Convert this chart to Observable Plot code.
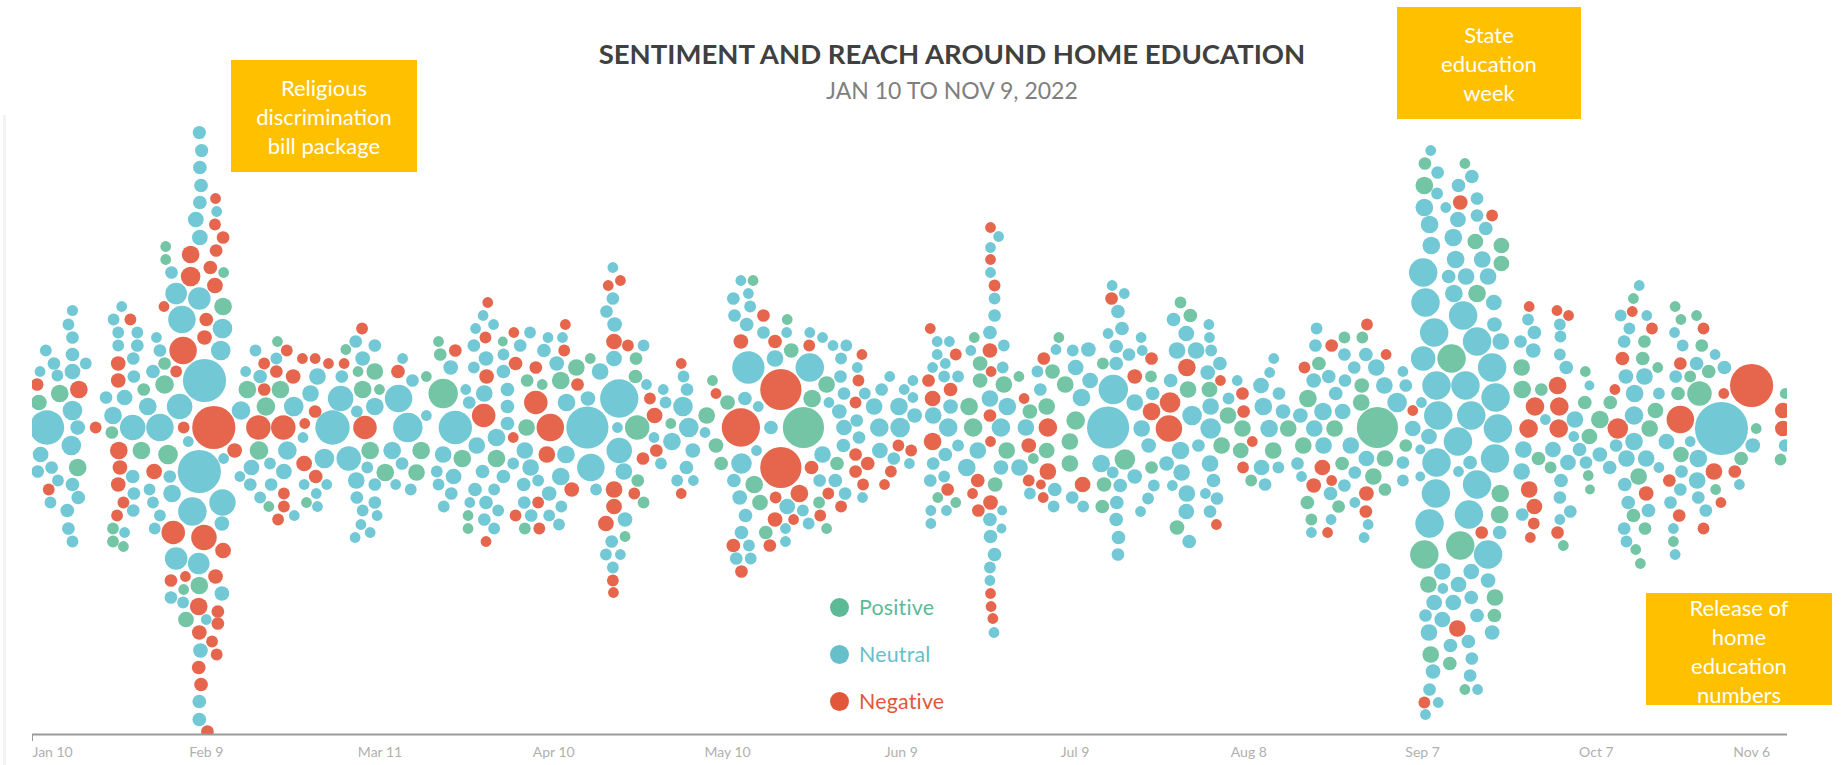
<!DOCTYPE html>
<html>
<head>
<meta charset="utf-8">
<script src="https://cdn.jsdelivr.net/npm/d3@7"></script>
<script src="https://cdn.jsdelivr.net/npm/@observablehq/plot@0.6"></script>
<style>
html,body{margin:0;padding:0;background:#fff;width:1845px;height:765px;overflow:hidden;font-family:Lato,"Open Sans",sans-serif}
#stage{position:relative;width:1845px;height:765px}
#chart{position:absolute;left:0;top:0}
.title{position:absolute;left:0;width:1904px;text-align:center}
.note{position:absolute;background:#FFC000;color:#fff;font-size:22px;line-height:29px;text-align:center;box-sizing:border-box;padding-top:13px}
.key{position:absolute;font-size:21.4px;line-height:24px;padding-left:29px;letter-spacing:.2px}
.key i{position:absolute;left:0;top:2.5px;width:19px;height:19px;border-radius:50%}
#edge{position:absolute;left:3px;top:115px;width:3px;height:650px;background:#f3f3f3}
</style>
</head>
<body>
<div id="stage">
<div id="edge"></div>
<div id="chart"></div>
<div class="title" style="top:38px;font-size:27.5px;font-weight:700;color:#404040;line-height:32px">SENTIMENT AND REACH AROUND HOME EDUCATION</div>
<div class="title" style="top:77px;font-size:23px;color:#7f7f7f;line-height:26px">JAN 10 TO NOV 9, 2022</div>
<div class="note" style="left:231px;top:60px;width:186px;height:112px">Religious<br>discrimination<br>bill package</div>
<div class="note" style="left:1397px;top:7px;width:184px;height:112px">State<br>education<br>week</div>
<div class="note" style="left:1646px;top:593px;width:186px;height:112px;padding-top:0">Release of<br>home<br>education<br>numbers</div>
<div class="key" style="left:830px;top:595px;color:#5cba97"><i style="background:#5cba97"></i>Positive</div>
<div class="key" style="left:830px;top:642px;color:#66bfc9"><i style="background:#66bfc9"></i>Neutral</div>
<div class="key" style="left:830px;top:689px;color:#e2573a"><i style="background:#e2573a"></i>Negative</div>
</div>
<script>
const P = "Positive", U = "Neutral", N = "Negative";
const sentiments = [P, U, N];
const sentimentColors = ["#74c5a5", "#72c8d4", "#e5664c"];
const tickDays = [0, 30, 60, 90, 120, 150, 180, 210, 240, 270, 300];
const tickLabels = ["Jan 10", "Feb 9", "Mar 11", "Apr 10", "May 10", "Jun 9", "Jul 9", "Aug 8", "Sep 7", "Oct 7", "Nov 6"];
const lastDay = 303;

// rows: [days since Jan 10, swarm offset, reach, sentiment]
const janDots = [
[6.9,117,32,U],[6.2,103,36,U],[6.9,90,42,U],[2.3,77,36,U],[6.9,73,49,U],[9.2,64,36,U],[3.7,64,42,U],[1.3,56,30,U],[4.3,52,36,U],[6.9,56,64,U],
[0.8,43,42,N],[8,38,81,N],[4.7,34,81,P],[1.1,25,64,P],[6.9,17,100,U],[7.8,0,56,U],[2.5,0,306,U],[10.9,0,36,N],[6.7,-18,100,U],[1.4,-27,64,U],
[3.3,-40,42,U],[7.8,-40,81,P],[0.9,-44,42,U],[4.4,-53,36,U],[6.9,-57,49,U],[2.8,-62,36,N],[7.9,-70,49,U],[3.1,-75,36,U],[6,-83,49,U],[6.2,-101,42,U],[6.9,-114,36,U],
[15.4,121,30,U],[14,108,36,U],[16.9,108,36,N],[14.8,95,36,U],[18.1,95,36,U],[14.8,82,36,U],[18.1,82,42,U],[17.4,69,42,U],[14.8,64,56,N],[17.5,51,42,U],
[14.8,47,56,N],[19.2,38,42,P],[15.9,30,64,U],[12.7,30,42,U],[13.9,12,81,U],[17.3,0,169,U],[13.7,-5,42,P],[14.9,-23,81,N],[18.8,-23,81,P],[15.1,-40,56,N],
[17.3,-49,49,U],[14.8,-57,56,N],[17.5,-66,42,U],[15.7,-75,36,N],[17.4,-83,42,U],[14.6,-88,36,N],[13.9,-101,36,P],[15.9,-105,30,U],[13.9,-114,36,P],[15.7,-119,30,P]
];
const febDots = [
[21.4,90,30,U],[22,77,42,U],[20.8,56,49,U],[22.8,64,42,P],[24.8,56,36,N],[22.8,43,90,P],[19.9,21,81,U],[25.4,21,169,U],[22,0,196,U],[26.1,0,36,N],
[26.9,-14,30,U],[23.4,-27,100,P],[21,-44,64,N],[23.7,-49,42,U],[20.2,-62,36,U],[24.1,-66,81,U],[20.8,-75,36,U],[22,-88,36,U],[21.1,-101,36,U],[24.3,-105,144,N],
[28.8,295,45,U],[29.2,277,45,U],[28.9,260,49,U],[29.1,242,49,U],[28.9,225,49,U],[31.6,229,30,N],[31.8,216,30,U],[28.2,208,64,U],[31.5,203,36,N],[28.9,190,64,U],
[32.9,190,42,N],[23,181,30,P],[31.7,177,42,N],[27.3,173,81,N],[23,168,30,P],[30.7,160,49,N],[33,155,30,P],[24,155,42,U],[27.3,151,100,N],[31.5,142,64,N],
[24.8,134,121,U],[28.8,129,132,U],[22.7,121,30,N],[32.9,121,81,P],[25.8,108,196,U],[30,108,49,N],[32.8,99,100,U],[29.7,90,56,N],[26,77,196,N],[32.5,77,100,U],
[29.7,47,484,U],[31.3,0,484,N],[28.8,-44,484,U],[33,-31,30,U],[34.9,-23,56,N],[32.8,-75,182,U],[27.6,-84,210,U],[32.7,-96,56,U],[29.6,-110,169,N],[32.9,-123,64,N],
[24.8,-131,132,U],[28.7,-136,121,U],[23.9,-153,42,N],[26.4,-149,30,N],[31.6,-149,56,N],[26.1,-162,30,P],[28.8,-158,81,P],[32.7,-166,56,U],[23.9,-170,42,U],[26,-175,36,U],
[28.7,-179,81,N],[32,-184,42,N],[26.5,-192,64,P],[30,-192,30,U],[32,-196,42,N],[28.8,-205,56,N],[31,-214,36,N],[29,-223,56,U],[31.8,-227,36,N],[28.7,-240,49,N],
[29.1,-257,49,N],[28.8,-274,49,U],[28.8,-292,49,U],[30.2,-304,42,N],
[36,17,90,U],[38.5,77,36,U],[42.3,86,30,P],[43.9,77,36,N],[40,64,36,N],[42.1,69,36,U],[36.8,56,30,U],[39.3,51,49,U],[42.1,56,42,N],[45,51,56,N],
[37.1,38,81,P],[40,38,42,N],[42.8,38,81,P],[40.3,21,90,P],[45.1,21,100,U],[39,0,156,N],[43.3,0,156,N],[39.1,-23,90,P],[44,-23,90,U],[41,-36,36,U],
[37.8,-40,64,U],[43.4,-44,64,U],[35.8,-49,30,U],[37.6,-57,42,U],[41.2,-57,42,U],[39.3,-70,36,U],[43.4,-66,36,N],[40.8,-79,30,P],[43.4,-79,36,N],[42.4,-92,36,N],[45.2,-88,30,U]
];
const marDots = [
[46.6,69,30,N],[48.8,69,30,N],[51.1,64,30,N],[53.8,64,30,N],[56.9,99,36,N],[55.8,86,42,U],[54.1,78,30,P],[59.1,82,42,U],[57,69,56,U],[56.2,56,30,P],
[59.1,56,72,P],[53.4,51,42,U],[49.2,51,72,U],[48,34,72,U],[57,38,81,P],[59.9,38,30,P],[53.2,29,169,U],[59.1,21,81,U],[56,16,36,U],[48.8,16,42,N],
[47,4,30,N],[46.7,-10,30,U],[51.8,0,306,U],[57.4,0,144,N],[58.3,-23,81,P],[50.4,-31,100,U],[54.6,-31,156,U],[46.9,-36,64,N],[57.8,-40,36,U],[60.9,-45,81,P],
[48.9,-49,49,N],[55.9,-53,72,U],[46.9,-57,30,U],[50.8,-57,30,U],[59.1,-57,42,U],[49,-66,30,U],[56,-70,42,U],[47.3,-75,30,P],[49.2,-79,30,U],[59.1,-75,42,U],
[57,-83,36,U],[59.5,-88,30,U],[56.7,-97,30,U],[58.3,-105,30,U],[55.7,-110,30,U],
[63.2,29,196,U],[64.8,0,225,U],[63.1,56,49,N],[63.9,69,30,U],[65.6,47,42,U],[68,51,30,P],[68,12,30,U],[62.1,-23,81,U],[67.1,-23,81,P],[63.8,-36,42,U],
[66.3,-45,72,P],[62.7,-57,30,U],[65.3,-62,36,U],
[70.9,34,225,P],[70.1,86,30,P],[73,77,42,N],[70.4,73,42,P],[72.2,60,56,U],[74.8,38,30,U],[75.4,25,42,U],[73,0,289,U],[77.9,12,144,N],[78,34,72,U],
[78.4,51,56,N],[78.3,69,56,U],[78.2,90,36,N],[76.2,60,36,U],[76.2,82,42,U],[76.5,99,30,U],[77.8,112,30,U],[78.6,125,30,N],[79.6,103,30,U],[81.2,86,25,P],
[81.3,73,36,U],[81.3,56,49,U],[82,38,49,U],[82,21,49,U],[82,4,49,U],[80.1,-10,81,U],[76.7,-18,72,U],[70.9,-27,72,U],[74.2,-31,81,P],[80.1,-31,81,P],
[69.8,-44,36,U],[72.7,-49,64,U],[77.7,-44,49,U],[81.3,-49,49,U],[70.1,-57,36,U],[76.4,-62,49,U],[79.7,-62,36,U],[72.3,-66,42,U],[75.5,-75,30,U],[78.3,-75,49,U],
[71,-79,36,U],[80.4,-83,36,U],[75.2,-88,30,P],[78,-92,42,U],[75.2,-101,30,P],[79.7,-101,36,U],[78.3,-114,30,N]
];
const aprDots = [
[83.1,95,30,N],[85.9,95,36,U],[84.2,82,42,U],[83.4,64,49,N],[89,90,30,U],[91.5,90,30,U],[92,103,30,N],[88.3,77,49,U],[91.8,77,36,N],[90.5,64,56,U],
[86.9,60,42,N],[85.4,47,42,P],[88,43,30,P],[91.2,47,81,P],[93.9,60,72,P],[96.3,69,30,P],[98,56,72,U],[94.1,43,42,N],[86.9,25,144,N],[92.2,25,81,U],
[95.9,29,56,U],[85.3,0,72,P],[89.4,0,196,N],[95.8,0,462,U],[83,-10,30,N],[85,-23,72,U],[88.8,-27,72,N],[92.1,-27,81,U],[83,-36,36,U],[86,-40,72,U],
[96.4,-40,196,U],[91.2,-49,81,U],[87.3,-53,36,U],[84.8,-57,49,U],[93.1,-62,56,N],[97.3,-62,36,U],[89.2,-66,56,U],[87.3,-75,36,N],[84.9,-75,42,U],[91.3,-79,36,U],
[83.4,-88,36,N],[86.1,-88,42,U],[89.2,-88,36,U],[90.9,-97,36,U],[85,-101,36,P],[87.5,-101,36,N],
[101.3,29,380,U],[100.4,69,64,U],[100.4,86,64,N],[100.5,103,56,U],[99.1,116,42,U],[100.2,129,42,U],[99.4,142,30,N],[101.5,147,30,N],[100.2,160,30,U],[102.8,82,36,N],
[105.5,82,36,U],[104.2,69,42,P],[104.1,51,49,P],[106,43,30,U],[106.6,29,36,N],[109.3,25,36,U],[108.9,38,30,U],[112.4,51,36,U],[112,64,30,N],[113,38,42,U],
[112.3,21,100,U],[107.4,12,64,N],[101,0,30,U],[104.4,0,156,P],[110.2,4,30,P],[113.3,0,100,U],[101.3,-23,169,U],[107.3,-10,30,U],[110.4,-14,81,U],[107.7,-23,42,N],
[105.4,-31,42,N],[114,-23,56,U],[108.5,-36,36,U],[112.9,-40,49,U],[102.1,-44,72,U],[104.5,-53,42,P],[111.3,-53,36,U],[114.1,-53,30,U],[100.4,-62,72,N],[103.9,-66,36,N],
[112,-66,30,N],[100.4,-79,64,N],[105.5,-75,36,P],[102.3,-92,56,U],[99,-96,64,N],[102.3,-109,30,P],[100,-114,42,U],[99,-127,36,U],[101.5,-127,30,U],[100.2,-140,36,U],
[100.2,-153,36,N],[100.3,-165,30,N]
];
const mayDots = [
[116.4,12,72,P],[116.1,-5,30,U],[118,-18,56,P],[118.9,-36,49,P],[117.4,47,30,P],[118,34,30,N],[120,25,56,P],[123,29,49,U],[125.3,21,30,U],[122.3,0,380,N],
[127.5,0,49,U],[133.1,0,441,P],[129.2,38,441,N],[129.2,-40,441,N],[123.6,60,272,U],[134.2,60,210,U],[128.2,69,72,U],[131,77,56,P],[134.1,82,36,N],[130.2,95,30,U],
[130.3,108,30,P],[128.2,86,49,N],[126.2,95,42,U],[126.2,112,42,N],[122.3,86,56,N],[123.3,103,49,U],[121.2,112,42,U],[123.9,121,36,U],[121,129,42,U],[123.6,134,30,U],
[122.3,147,30,U],[124.4,147,30,P],[134.2,95,30,U],[136.4,90,30,U],[138.2,82,30,U],[140.5,82,36,U],[139.6,69,36,U],[143.2,73,30,N],[142.4,60,30,U],[139.5,51,42,U],
[137.1,43,72,P],[142.6,47,36,N],[134.6,29,81,P],[140.1,34,42,U],[143.7,34,36,U],[137.5,25,30,U],[142.1,25,36,N],[139.3,16,56,U],[142.3,7,42,U],[140.1,0,64,U],
[142.7,-10,42,U],[140,-18,49,U],[125,-23,30,U],[122.4,-36,110,U],[136.4,-27,72,U],[142.1,-27,42,N],[138.9,-36,49,P],[134.5,-40,49,N],[144.2,-36,49,N],[142.1,-44,42,N],
[135.9,-53,42,U],[138.6,-53,49,U],[121.1,-53,49,U],[124.6,-57,81,P],[143.4,-57,36,N],[132.4,-66,81,N],[128.3,-70,36,N],[137.4,-66,36,N],[140.3,-66,42,U],[122.1,-70,56,U],
[125.6,-75,64,P],[135.8,-75,36,P],[130.3,-79,64,U],[143.3,-70,30,U],[139.6,-79,36,N],[133,-83,36,U],[123.1,-88,49,U],[136,-88,36,N],[128.2,-92,56,N],[131.4,-92,30,N],
[134,-96,36,U],[137.1,-101,30,P],[130,-101,30,U],[122.4,-105,49,U],[126.6,-105,49,P],[130,-114,30,U],[121,-118,49,N],[123.7,-118,36,U],[127.3,-118,42,N],[121.5,-131,42,U],
[124,-131,36,U],[122.4,-144,42,N]
];
const junDots = [
[148,51,30,U],[146.6,38,42,U],[150.5,38,30,U],[152,47,30,U],[152,30,30,U],[145.3,21,72,U],[149.6,21,81,U],[152.3,12,56,U],[146.2,0,90,U],[149.8,0,100,U],
[146.3,-23,64,U],[149.5,-18,36,N],[151.7,-23,36,N],[148.7,-31,42,U],[151.4,-36,30,U],[148.2,-44,36,N],[147.1,-57,30,N],
[155,99,30,N],[156.2,86,30,U],[158.3,86,30,U],[156.2,73,30,U],[159.4,73,36,N],[157.6,64,30,U],[155.4,60,30,U],[157.4,51,36,U],[159.8,51,36,U],
[154.7,47,42,N],[158.5,38,49,N],[155.4,29,64,N],[158.5,21,56,U],[155.5,12,72,U],[161.7,21,81,P],[158.1,0,90,U],[162.4,0,90,P],[155.4,-14,81,N],[159.8,-18,36,U],
[157.6,-27,49,U],[163.2,-23,72,U],[155.5,-36,42,U],[161.3,-40,81,U],[157.4,-49,36,U],[155,-53,42,U],[163.2,-53,49,N],[158,-62,42,N],[162.3,-66,30,N],[156.3,-70,30,P],
[159.4,-75,30,P],[163.3,-83,42,N],[155.1,-83,30,U],[157.8,-83,30,U],[155.1,-96,30,U],
[165.4,200,30,N],[166.8,191,30,U],[165.4,180,30,U],[165.4,168,30,N],[165.4,155,30,U],[166.1,142,36,N],[166.1,129,36,U],[166.1,112,42,U],[165.3,95,49,U],[165.3,77,56,N],
[167.7,82,36,U],[162.6,90,30,P],[162,77,30,U],[163.6,64,56,P],[165.5,56,30,N],[167.5,60,36,U],[163.6,47,56,P],[167.7,43,72,P],[170.3,51,30,P],[165.3,29,72,U],
[171.2,29,30,N],[168.3,21,81,U],[165.3,12,42,N],[167.2,0,90,U],[171.5,0,72,U],[165.4,-14,30,N],[172,-18,56,N],[168.2,-23,72,P],[172.8,-31,30,P],[167.2,-40,56,U],
[170.4,-40,72,U],[166.2,-57,56,P],[165.4,-75,56,N],[167.4,-83,25,U],[165.3,-92,49,U],[167.3,-101,25,U],[165.4,-109,49,U],[166.1,-127,49,U],[165.3,-140,36,U],[165.3,-153,30,U],
[165.4,-166,30,N],[165.5,-179,30,N],[165.8,-191,30,N],[166,-205,30,U]
];
const julDots = [
[174.6,69,42,N],[173.5,56,36,U],[176.1,56,56,P],[174,38,42,U],[172.2,16,56,P],[175.1,21,72,P],[175.3,0,90,N],[175.1,-23,64,P],[175.3,-44,72,N],[172,-53,36,N],
[174.1,-57,25,N],[176.5,-62,49,U],[172.2,-66,36,U],[174.5,-70,30,N],[176.3,-79,36,U],[176.7,78,30,U],[177.2,90,30,P],[179.6,77,36,U],[182.3,78,56,U],[180.1,60,64,U],
[178.3,43,72,P],[182.6,47,64,U],[181.1,30,81,U],[184.8,64,36,P],[180.1,7,90,P],[179.1,-14,72,P],[179.1,-36,72,P],[181.3,-57,64,N],[179.5,-70,42,U],[181.4,-79,36,U],
[185,-57,56,P],[184.7,-79,49,P],
[186.4,142,30,U],[188.5,134,30,U],[186.3,129,42,N],[187.4,116,49,U],[188.1,99,49,U],[185.7,94,30,U],[187.1,81,49,U],[191.4,90,30,U],[191.6,77,30,U],[189.3,73,42,U],
[187.1,64,49,U],[193.2,69,42,N],[190.3,51,56,N],[193.1,51,36,P],[186.6,38,225,U],[193.4,34,49,U],[190.3,25,72,U],[196.4,25,110,N],[193.2,16,81,N],[196.2,-1,182,N],
[185.7,0,462,U],[191.5,-1,72,U],[192.7,-18,56,U],[188.6,-32,110,P],[193.2,-40,42,P],[195.8,-36,56,U],[186.5,-45,36,U],[190.3,-49,56,U],[184.5,-36,81,U],[187.8,-58,49,U],
[193.6,-58,36,U],[198.4,-45,72,U],[196.8,-58,30,U],[192.6,-71,36,U],[187.2,-75,49,U],[191.3,-84,30,U],[187.1,-92,49,U],[187.5,-110,49,U],[187.4,-127,42,U],
[198.2,125,36,P],[199.9,112,49,P],[197,108,49,U],[203.1,103,30,U],[199.2,94,64,U],[203.2,90,30,U],[197.6,77,72,U],[200.9,77,72,U],[203.5,77,36,U],[199.3,60,81,N],
[205,64,49,U],[202.9,55,56,U],[196.5,47,49,U],[205.1,47,30,N],[199.5,38,72,P],[203.2,38,64,P],[208,47,30,U],[206.5,29,36,U],[208.9,34,42,N],[203.4,21,72,U],
[209.1,16,42,N],[206.4,12,72,P],[200.2,12,100,U],[208.9,-1,72,P],[203.4,-1,110,U],[201.3,-18,42,U],[205.3,-18,72,P],[198.2,-23,81,U],[210.6,-14,30,N],[208.6,-23,64,P],
[203.3,-36,72,U],[209,-40,36,N],[203.9,-53,49,U],[210.4,-53,36,P],[199.3,-66,72,U],[202.5,-66,30,U],[204.5,-71,42,U],[203.3,-84,42,U],[199.2,-84,64,U],[204.4,-97,30,N],
[197.6,-100,56,P],[199.7,-114,49,U]
];
const augDots = [
[214.3,69,30,U],[213.6,55,30,U],[212.1,42,64,U],[215.2,34,42,U],[212.5,21,81,U],[215.9,16,56,U],[218.9,12,56,U],[213.5,-1,81,U],[216.8,-1,72,P],[214.2,-23,72,P],
[212.2,-40,64,U],[215.1,-40,36,U],[212.8,-57,42,U],
[219.6,60,36,N],[222.1,64,49,P],[221.7,99,36,U],[221.5,82,42,U],[224.3,82,42,N],[226.5,90,36,P],[226.5,73,42,U],[230.4,103,36,N],[229.6,90,36,P],[230.2,73,49,U],
[233.7,73,30,N],[228.2,60,42,U],[232,60,72,U],[221.2,47,56,U],[223.8,51,49,U],[226.6,47,42,U],[229.5,42,56,P],[233.4,42,72,U],[220.2,29,81,P],[225,34,49,U],
[229.4,25,72,P],[235.6,25,100,U],[222.8,16,81,U],[226.2,16,64,U],[221.3,-1,72,U],[224.8,-1,72,P],[232.2,0,441,P],[219.4,-18,72,P],[222.9,-18,72,U],[227.6,-18,72,U],
[218.4,-36,42,U],[222.7,-40,64,N],[226.1,-36,49,P],[230.3,-31,64,U],[233.5,-31,72,P],[219.1,-49,30,U],[228.3,-45,42,U],[231.5,-49,72,P],[224.3,-53,30,N],[221.2,-58,56,N],
[226.5,-58,42,U],[233.5,-62,42,P],[224.1,-66,49,U],[230.3,-66,56,N],[228.3,-75,30,U],[220.1,-75,49,P],[225.5,-79,42,P],[230.2,-84,42,N],[220.8,-92,36,P],[224.2,-92,30,U],
[230.6,-97,30,U],[220.8,-105,30,U],[223.6,-105,30,N],[229.9,-110,30,U]
];
const sepDots = [
[236.6,56,30,U],[237.1,42,42,U],[239.8,25,30,U],[238.3,17,30,N],[238.3,-1,64,U],[241.1,-9,64,U],[237.1,-18,42,P],[239.6,-22,25,U],[236.6,-35,42,U],[239.6,-49,25,U],[236.6,-53,36,U],
[241.4,277,30,U],[240.4,264,42,P],[242.6,255,42,U],[247.3,264,30,P],[248.5,251,49,U],[240.3,242,81,P],[246.2,242,49,U],[242.5,234,36,U],[249.4,229,42,U],[244,220,30,U],
[246.5,225,56,N],[240.3,220,81,U],[249.4,212,42,U],[252,212,36,N],[246.1,208,64,U],[241.2,203,81,U],[250.9,199,49,U],[245.3,190,81,U],[249.1,186,64,P],[241.5,182,81,U],
[253.6,182,64,P],[245.7,168,81,U],[250.3,168,72,U],[253.6,164,64,P],[240.1,155,210,U],[244.5,151,49,U],[247.5,151,72,U],[251.3,151,72,U],[240.5,125,210,U],[245.4,134,81,U],
[249.4,134,81,P],[252.3,125,64,U],[247,112,210,U],[252.4,103,56,U],[242,95,210,U],[249.4,86,210,U],[253.5,86,72,U],[240.1,69,156,U],[245,69,210,P],[252,60,210,U],
[242.4,42,210,U],[247.4,42,210,U],[252.6,30,210,U],[242.7,12,210,U],[248.4,12,210,U],[253,-1,210,U],[246.1,-14,210,U],[242.4,-35,210,U],[252.5,-31,210,U],[248.2,-35,49,U],
[246.2,-44,30,U],[249.4,-57,210,U],[242.3,-66,210,U],[253.4,-66,81,P],[248,-87,210,U],[253.3,-87,81,P],[241.2,-96,210,U],[253.3,-105,49,U],[250.2,-105,42,N],[246.5,-118,210,P],
[240.3,-127,210,P],[251.3,-127,210,U],[243.4,-144,72,U],[248.4,-144,64,U],[251.3,-153,56,U],[241,-157,72,P],[243.5,-161,30,U],[246.2,-157,64,U],[248.4,-170,49,U],[252.5,-170,72,P],
[242,-175,64,U],[245.3,-175,64,U],[240.5,-188,42,U],[243.4,-192,64,U],[249.4,-188,49,U],[252.4,-188,49,P],[246,-201,72,N],[241.1,-205,72,U],[252,-205,56,U],[247.9,-214,49,U],
[244.8,-218,49,U],[241.4,-227,72,P],[244.7,-236,49,P],[248.5,-231,42,U],[241.8,-244,56,U],[248.2,-248,42,U],[241.2,-262,42,U],[247.3,-262,30,P],[249.5,-262,30,U],[240.3,-275,36,N],
[242.7,-275,30,U],[240.5,-287,30,U]
];
const octDots = [
[258.4,121,30,N],[258.2,108,36,U],[263.2,117,30,N],[265.2,112,30,N],[263.7,103,36,U],[259.3,95,49,U],[263.8,91,36,U],[256.9,86,42,U],[259.1,77,56,U],[263.7,73,36,U],
[264.8,60,49,U],[257.1,60,72,P],[268.1,56,30,P],[268.8,42,25,U],[257.2,38,81,P],[260.5,38,42,P],[263.3,42,81,N],[259.4,21,90,N],[263.6,21,90,N],[268,25,49,P],
[261.2,8,30,U],[266.3,8,72,U],[258.3,-1,90,N],[263.5,-1,90,N],[266.1,-9,30,U],[268.8,-9,64,P],[257.4,-22,72,U],[262.5,-22,64,U],[267.1,-22,49,U],[260,-31,49,P],
[262.1,-40,36,P],[265.1,-35,64,U],[268.2,-35,42,U],[257.1,-44,72,U],[263.9,-53,49,U],[268.6,-48,30,P],[258.4,-62,72,N],[268.9,-62,25,P],[263.7,-70,42,U],[259.3,-79,64,N],
[265.5,-84,42,U],[257.2,-87,42,U],[263.7,-92,30,U],[259.2,-96,36,N],[263.3,-105,42,N],[258.6,-110,30,N],[264.3,-118,30,P],
[270.6,8,81,P],[270.6,-27,56,U],[272.3,-40,49,U],
[277.4,142,30,U],[276.4,129,30,P],[274.2,112,36,U],[276.2,116,30,N],[278.7,112,30,U],[275.7,99,36,U],[279.6,99,36,N],[274.8,86,42,U],[278.3,86,42,P],[274.5,69,49,N],
[278,69,49,P],[280.6,60,30,P],[275.1,51,56,U],[278.3,51,72,U],[273.2,38,30,N],[276.6,34,81,U],[280.8,34,36,U],[272.4,25,49,P],[276.5,12,90,U],[280.2,17,64,P],
[279.2,-1,72,P],[273.7,-1,110,N],[276.5,-14,81,U],[273.4,-18,42,U],[282.1,-14,64,U],[275.2,-31,72,U],[278.6,-31,72,U],[280.8,-40,30,U],[277.3,-49,72,P],[282.6,-53,42,N],
[274.9,-57,49,U],[278.6,-66,56,N],[275.5,-75,49,U],[276.4,-88,49,P],[279,-83,49,U],[274.8,-101,42,U],[278.4,-101,42,P],[275.2,-114,36,U],[276.8,-122,30,P],[277.6,-136,30,P]
];
const novDots = [
[283.6,121,30,P],[284.6,108,30,P],[287.3,112,30,P],[288.5,99,36,N],[283.5,95,30,U],[284.9,82,36,U],[288.2,82,42,P],[290.5,73,30,U],[284.5,64,42,N],[287.3,64,49,U],
[292.1,60,49,U],[289.4,56,49,P],[283.7,51,42,U],[286.2,51,36,P],[296.8,42,484,N],[287.8,34,156,P],[284.1,34,49,P],[292,34,30,N],[284.5,8,196,N],[291.6,-1,729,U],
[297.6,-1,30,P],[286.2,-14,30,U],[297,-18,56,U],[284.6,-27,64,P],[287.6,-31,81,U],[295,-31,49,P],[284.7,-44,42,U],[290.3,-44,72,N],[293.9,-44,42,N],[287.4,-53,72,U],
[294.7,-57,30,U],[284.5,-62,42,U],[290.6,-62,30,P],[282.8,-75,42,U],[287.6,-70,42,U],[291.5,-75,30,N],[288.9,-83,42,U],[284.3,-88,42,N],[283.3,-101,30,U],[288.5,-101,36,N],
[283.3,-114,30,P],[283.6,-127,30,U],
[302.6,34,30,P],[302.2,17,64,N],[302.2,-1,64,N],[302.6,-18,42,U],[301.8,-32,36,P]
];

const rows = [...janDots, ...febDots, ...marDots, ...aprDots, ...mayDots, ...junDots, ...julDots, ...augDots, ...sepDots, ...octDots, ...novDots]
  .map(([day, offset, reach, sentiment]) => ({day, offset, reach, sentiment}));

const tickFormat = d => tickLabels[tickDays.indexOf(d)];
const axisStyle = {tickSize: 0, tickPadding: 13, fontSize: 14, color: "#b0b0b0", tickFormat, label: null};

const plot = Plot.plot({
  width: 1845,
  height: 765,
  marginLeft: 32,
  marginRight: 58,
  marginTop: 0,
  marginBottom: 31,
  style: {background: "transparent", fontFamily: "Lato, 'Open Sans', sans-serif", overflow: "visible"},
  x: {domain: [0, lastDay]},
  y: {domain: [-307, 427], axis: null},
  r: {type: "sqrt", domain: [0, 729], range: [0, 26.5]},
  color: {domain: sentiments, range: sentimentColors},
  marks: [
    Plot.dot(rows, {x: "day", y: "offset", r: "reach", fill: "sentiment", clip: "frame"}),
    Plot.axisX({ticks: tickDays.slice(1, -1), ...axisStyle}),
    Plot.axisX({ticks: tickDays.slice(0, 1), ...axisStyle, tickSize: 7, stroke: "#999", textAnchor: "start", tickPadding: 6}),
    Plot.axisX({ticks: tickDays.slice(-1), ...axisStyle, textAnchor: "end"}),
    Plot.ruleY([-307], {x1: 0, x2: lastDay, stroke: "#9a9a9a", strokeWidth: 2})
  ]
});
document.getElementById("chart").appendChild(plot);
</script>
</body>
</html>
